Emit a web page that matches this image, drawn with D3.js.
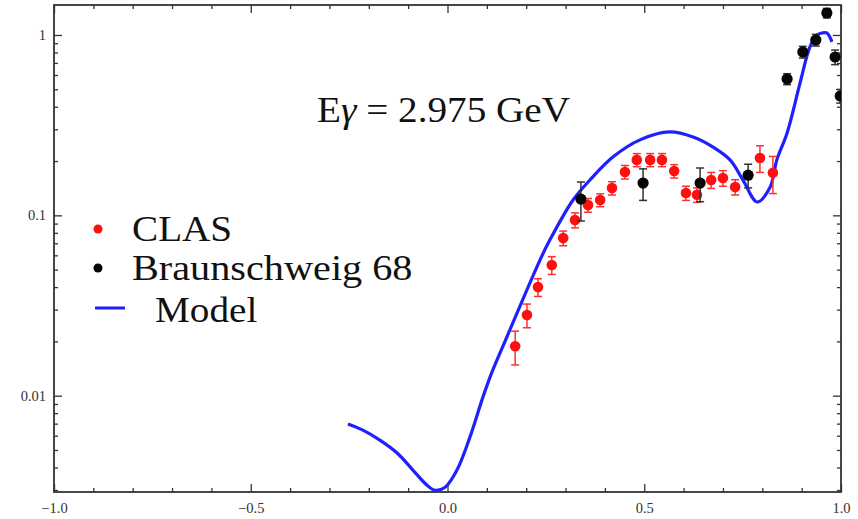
<!DOCTYPE html>
<html>
<head>
<meta charset="utf-8">
<script src="https://cdn.jsdelivr.net/npm/d3@7"></script>
<style>
  body { margin: 0; background: #fff; }
  svg { display: block; }
  .tick-label { font-family: "Liberation Serif", "Times New Roman", serif; font-size: 14.5px; fill: #333; }
  .big { font-family: "Liberation Serif", "Times New Roman", serif; font-size: 35px; fill: #111; }
</style>
</head>
<body>
<script>
// CLAS data (cos theta, cross section, error)
const clasX = [0.172, 0.202, 0.230, 0.265, 0.294, 0.324, 0.357, 0.388, 0.418, 0.451, 0.481,
               0.515, 0.545, 0.576, 0.606, 0.634, 0.670, 0.700, 0.731, 0.794, 0.827];
const clasY = [0.0188, 0.0280, 0.0400, 0.0530, 0.0748, 0.0942, 0.114, 0.1216, 0.1416, 0.174, 0.203,
               0.203, 0.203, 0.176, 0.133, 0.130, 0.157, 0.161, 0.1436, 0.208, 0.172];
const clasErr = [0.0040, 0.0042, 0.0045, 0.006, 0.007, 0.009, 0.010, 0.010, 0.012, 0.015, 0.017,
                 0.017, 0.017, 0.015, 0.012, 0.012, 0.016, 0.016, 0.014, 0.035, 0.040];

// Braunschweig 68 data
const braunX = [0.339, 0.497, 0.642, 0.764, 0.863, 0.903, 0.936, 0.964, 0.985, 0.998];
const braunY = [0.123, 0.151, 0.151, 0.167, 0.570, 0.805, 0.938, 1.324, 0.755, 0.459];
const braunErr = [0.030, 0.030, 0.032, 0.025, 0.040, 0.060, 0.070, 0.080, 0.070, 0.040];

// Model curve
const modelX = [-0.253, -0.215, -0.172, -0.128, -0.088, -0.052, -0.032, -0.006, 0.024, 0.057,
                0.090, 0.113, 0.141, 0.235, 0.260, 0.319, 0.362, 0.421, 0.489, 0.565,
                0.624, 0.675, 0.718, 0.751, 0.787, 0.820, 0.837, 0.863, 0.896, 0.921, 0.939,
                0.952, 0.964, 0.977];
const modelY = [0.00697, 0.00644, 0.00567, 0.00481, 0.00387, 0.00319, 0.00299, 0.00311, 0.00387, 0.00589,
                0.00982, 0.01352, 0.01884, 0.0565, 0.0729, 0.1216, 0.157, 0.211, 0.262, 0.290,
                0.272, 0.239, 0.203, 0.157, 0.1186, 0.1436, 0.203, 0.286, 0.542, 0.858, 1.0,
                1.026, 1.026, 0.915];

const xMajor = [-1, -0.5, 0, 0.5, 1];
const xMajorLabels = ['\u22121.0', '\u22120.5', '0.0', '0.5', '1.0'];
const yMajor = [0.01, 0.1, 1];
const yMajorLabels = ['0.01', '0.1', '1'];

const seriesNames = ['CLAS', 'Braunschweig 68', 'Model'];
const title = ['E', '\u03b3', ' = 2.975 GeV'];

const width = 858, height = 519;
const frame = { left: 54, right: 841, top: 5, bottom: 492 };

const svg = d3.select('body').append('svg')
  .attr('width', width).attr('height', height);

const xScale = d3.scaleLinear().domain([-1, 1]).range([frame.left, frame.right]);
const yScale = d3.scaleLog().domain([0.002924, 1.4665]).range([frame.bottom, frame.top]);

const xMinor = d3.range(-10, 11).map(i => i / 10).filter(v => !xMajor.some(m => Math.abs(m - v) < 1e-9));
const yMinor = [];
[0.001, 0.01, 0.1, 1].forEach(d => {
  for (let k = 2; k <= 9; k++) {
    const v = d * k;
    if (v > yScale.domain()[0] && v < yScale.domain()[1]) yMinor.push(v);
  }
});

const axisColor = '#333';
const styleAxis = g => {
  g.select('.domain').remove();
  g.selectAll('.tick line').attr('stroke', axisColor).attr('stroke-width', 1.3);
};

// bottom axis
svg.append('g').attr('transform', `translate(0,${frame.bottom})`)
  .call(d3.axisBottom(xScale).tickValues(xMinor).tickSize(-4).tickFormat(''))
  .call(styleAxis);
svg.append('g').attr('transform', `translate(0,${frame.bottom})`)
  .call(d3.axisBottom(xScale).tickValues(xMajor).tickSize(-8).tickPadding(11)
    .tickFormat((d, i) => xMajorLabels[i]))
  .call(styleAxis)
  .call(g => g.selectAll('text').attr('class', 'tick-label').attr('fill', null));

// top axis
svg.append('g').attr('transform', `translate(0,${frame.top})`)
  .call(d3.axisTop(xScale).tickValues(xMinor).tickSize(-4).tickFormat(''))
  .call(styleAxis);
svg.append('g').attr('transform', `translate(0,${frame.top})`)
  .call(d3.axisTop(xScale).tickValues(xMajor).tickSize(-8).tickFormat(''))
  .call(styleAxis);

// left axis
svg.append('g').attr('transform', `translate(${frame.left},0)`)
  .call(d3.axisLeft(yScale).tickValues(yMinor).tickSize(-4).tickFormat(''))
  .call(styleAxis);
svg.append('g').attr('transform', `translate(${frame.left},0)`)
  .call(d3.axisLeft(yScale).tickValues(yMajor).tickSize(-8).tickPadding(8)
    .tickFormat((d, i) => yMajorLabels[i]))
  .call(styleAxis)
  .call(g => g.selectAll('text').attr('class', 'tick-label').attr('fill', null));

// right axis
svg.append('g').attr('transform', `translate(${frame.right},0)`)
  .call(d3.axisRight(yScale).tickValues(yMinor).tickSize(-4).tickFormat(''))
  .call(styleAxis);
svg.append('g').attr('transform', `translate(${frame.right},0)`)
  .call(d3.axisRight(yScale).tickValues(yMajor).tickSize(-8).tickFormat(''))
  .call(styleAxis);

// frame
svg.append('rect')
  .attr('x', frame.left).attr('y', frame.top)
  .attr('width', frame.right - frame.left).attr('height', frame.bottom - frame.top)
  .attr('fill', 'none').attr('stroke', axisColor).attr('stroke-width', 1.8);

svg.append('clipPath').attr('id', 'plot-clip')
  .append('rect')
  .attr('x', frame.left).attr('y', frame.top)
  .attr('width', frame.right - frame.left).attr('height', frame.bottom - frame.top);

const plot = svg.append('g').attr('clip-path', 'url(#plot-clip)');

// model curve
const modelData = modelX.map((x, i) => ({ x, y: modelY[i] }));
plot.append('path')
  .datum(modelData)
  .attr('fill', 'none')
  .attr('stroke', '#1f1fff')
  .attr('stroke-width', 3.2)
  .attr('stroke-linejoin', 'round')
  .attr('d', d3.line().x(d => xScale(d.x)).y(d => yScale(d.y)).curve(d3.curveCatmullRom));

const drawPoints = (xs, ys, errs, color, barColor, r) => {
  const data = xs.map((x, i) => ({ x, y: ys[i], e: errs[i] }));
  const g = plot.append('g');
  const bars = g.selectAll('g.err').data(data).enter().append('g')
    .attr('stroke', barColor).attr('stroke-width', 1.5);
  bars.append('line')
    .attr('x1', d => xScale(d.x)).attr('x2', d => xScale(d.x))
    .attr('y1', d => yScale(d.y + d.e)).attr('y2', d => yScale(d.y - d.e));
  bars.append('line')
    .attr('x1', d => xScale(d.x) - 4).attr('x2', d => xScale(d.x) + 4)
    .attr('y1', d => yScale(d.y + d.e)).attr('y2', d => yScale(d.y + d.e));
  bars.append('line')
    .attr('x1', d => xScale(d.x) - 4).attr('x2', d => xScale(d.x) + 4)
    .attr('y1', d => yScale(d.y - d.e)).attr('y2', d => yScale(d.y - d.e));
  g.selectAll('circle').data(data).enter().append('circle')
    .attr('cx', d => xScale(d.x)).attr('cy', d => yScale(d.y))
    .attr('r', r).attr('fill', color);
};

drawPoints(clasX, clasY, clasErr, '#ff1010', '#ff3030', 5.3);
drawPoints(braunX, braunY, braunErr, '#050505', '#333', 5.6);

// title
const titleText = svg.append('text').attr('class', 'big')
  .attr('transform', 'translate(317,122) scale(1.12,1)');
titleText.append('tspan').text(title[0]);
titleText.append('tspan').attr('font-style', 'italic').text(title[1]);
titleText.append('tspan').text(title[2]);

// legend
const legend = svg.append('g');
legend.append('circle').attr('cx', 98).attr('cy', 229).attr('r', 4.5).attr('fill', '#ff1010');
legend.append('circle').attr('cx', 98).attr('cy', 268).attr('r', 4.5).attr('fill', '#050505');
legend.append('line').attr('x1', 95).attr('x2', 125).attr('y1', 308).attr('y2', 308)
  .attr('stroke', '#1f1fff').attr('stroke-width', 3);
legend.append('text').attr('class', 'big')
  .attr('transform', 'translate(132,241) scale(1.12,1)').text(seriesNames[0]);
legend.append('text').attr('class', 'big')
  .attr('transform', 'translate(132,280) scale(1.15,1)').text(seriesNames[1]);
legend.append('text').attr('class', 'big')
  .attr('transform', 'translate(155,322) scale(1.12,1)').text(seriesNames[2]);
</script>
</body>
</html>
